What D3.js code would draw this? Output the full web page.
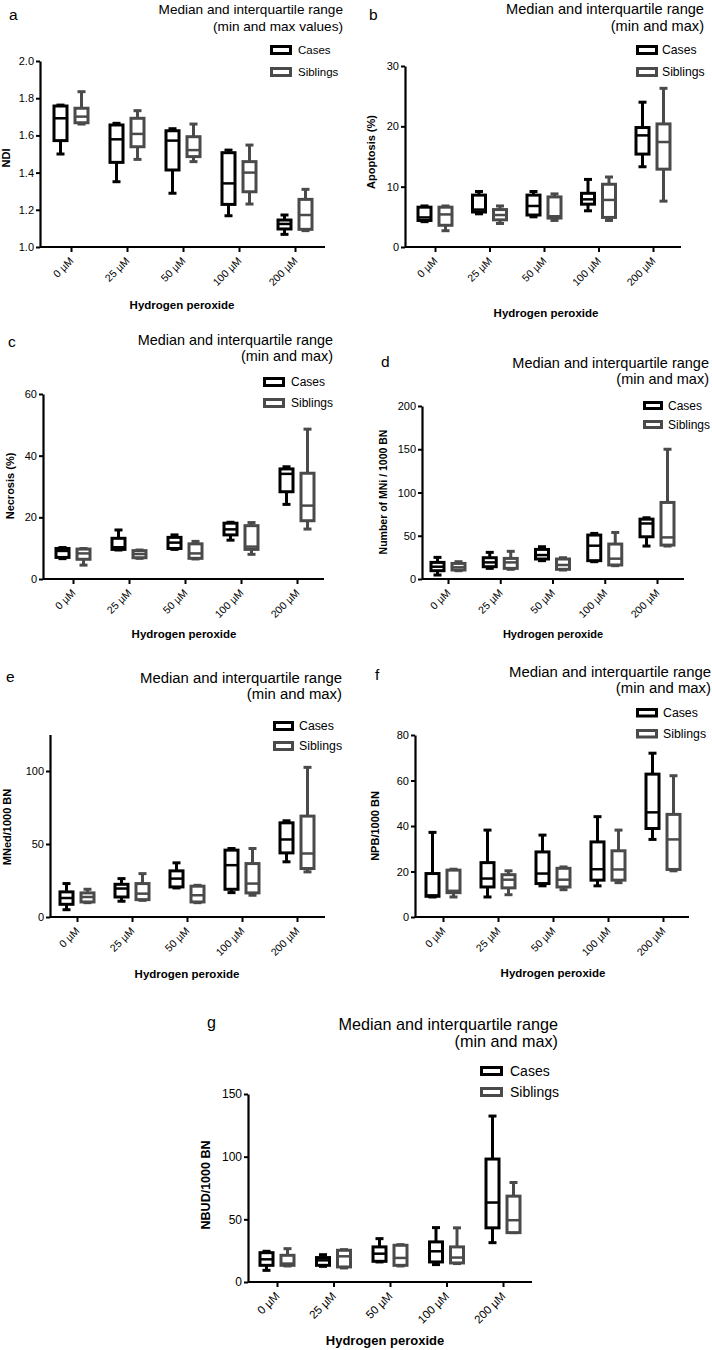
<!DOCTYPE html>
<html><head><meta charset="utf-8">
<script src="https://cdn.jsdelivr.net/npm/d3@7"></script>
<style>
body{margin:0;background:#fff}
svg{display:block}
text{font-family:"Liberation Sans",Arial,Helvetica,sans-serif;fill:#000}
</style>
</head><body>
<svg id="chart" width="712" height="1350"></svg>
<script>
// ---------------- DATA ----------------
const categories = ["0 µM", "25 µM", "50 µM", "100 µM", "200 µM"];
const groups = ["Cases", "Siblings"];
// each entry: [min, q1, median, q3, max]
const ndiCases     = [[1.500,1.572,1.692,1.758,1.763],[1.351,1.455,1.579,1.656,1.665],[1.289,1.414,1.572,1.625,1.636],[1.168,1.229,1.342,1.507,1.521],[1.068,1.097,1.124,1.145,1.172]];
const ndiSiblings  = [[1.661,1.668,1.701,1.746,1.835],[1.471,1.539,1.608,1.692,1.733],[1.459,1.486,1.521,1.593,1.661],[1.231,1.297,1.400,1.459,1.548],[1.088,1.095,1.172,1.256,1.310]];
const apoCases     = [[4.2,4.4,4.9,6.6,6.8],[5.5,5.8,6.2,8.6,9.2],[5.0,5.3,6.8,8.6,9.2],[6.0,7.1,7.9,8.9,11.2],[13.3,15.4,18.5,19.8,24.0]];
const apoSiblings  = [[2.7,3.6,5.4,6.6,6.8],[3.9,4.5,5.3,6.2,6.8],[4.4,4.8,5.1,8.3,8.8],[4.4,4.9,7.8,10.4,11.6],[7.6,12.9,17.4,20.4,26.3]];
const necCases     = [[6.6,7.0,9.1,9.9,10.2],[9.4,9.6,10.3,13.2,15.9],[9.6,9.9,11.8,13.5,14.3],[12.6,14.3,16.1,18.1,18.4],[24.2,28.3,34.1,35.7,36.4]];
const necSiblings  = [[4.5,6.4,8.3,9.7,9.9],[6.7,6.9,8.1,9.2,9.4],[6.5,6.7,8.3,11.4,12.2],[8.0,9.6,10.5,17.3,18.3],[16.2,18.9,23.8,34.3,48.6]];
const mniCases     = [[4.6,9.6,14.2,19.2,25.0],[12.3,14.2,19.2,24.6,30.8],[21.2,23.1,27.7,34.2,37.3],[20.0,21.2,38.5,50.8,52.7],[38.1,48.8,64.2,69.2,70.8]];
const mniSiblings  = [[9.6,10.4,13.5,18.0,20.0],[11.2,12.3,19.2,23.8,32.0],[10.4,11.2,16.2,23.1,24.6],[15.4,16.2,23.5,40.4,53.8],[38.1,39.2,48.1,88.5,150.0]];
const mnedCases    = [[5.0,8.7,13.0,17.2,22.9],[10.8,13.7,19.5,22.4,26.3],[19.9,20.6,26.3,31.6,37.1],[16.7,19.0,35.5,45.8,46.9],[37.8,43.9,53.1,64.5,65.9]];
const mnedSiblings = [[9.8,10.3,13.7,16.5,19.0],[11.4,11.9,16.0,22.9,29.7],[9.8,10.3,14.9,21.1,21.7],[14.9,16.5,22.9,36.6,46.9],[30.9,33.2,43.5,69.1,102.5]];
const npbCases     = [[8.8,9.1,9.5,19.1,37.2],[8.8,13.2,16.9,23.9,38.2],[13.7,14.7,19.1,28.6,36.0],[13.7,16.2,21.0,33.0,44.1],[34.1,38.9,46.0,62.8,72.0]];
const npbSiblings  = [[8.8,10.7,11.5,20.6,21.0],[9.8,12.8,16.4,18.6,20.3],[12.0,13.2,16.4,21.4,22.0],[15.1,16.2,20.9,29.1,38.2],[20.3,20.9,34.1,45.1,62.1]];
const nbudCases    = [[9.3,13.3,18.1,23.4,24.5],[12.5,13.3,17.3,19.5,21.8],[16.0,16.5,22.6,28.0,34.6],[13.9,16.0,24.5,32.0,43.4],[31.4,43.2,63.4,98.1,132.4]];
const nbudSiblings = [[12.8,13.3,14.7,21.3,26.6],[11.2,12.0,20.5,25.3,25.8],[12.8,13.3,19.2,29.3,29.8],[14.7,15.2,19.5,28.0,43.2],[39.4,39.4,49.3,68.5,79.4]];

const ndiTicks  = [1.0,1.2,1.4,1.6,1.8,2.0];
const apoTicks  = [0,10,20,30];
const necTicks  = [0,20,40,60];
const mniTicks  = [0,50,100,150,200];
const mnedTicks = [0,50,100];
const npbTicks  = [0,20,40,60,80];
const nbudTicks = [0,50,100,150];

const titleLine1 = "Median and interquartile range";
const xTitle = "Hydrogen peroxide";

// ---------------- LAYOUT ----------------
const panels = [
  {letter:"a", cases:ndiCases, sibs:ndiSiblings, ticks:ndiTicks, domain:[1,2], fmt:".1f", yLabel:"NDI", title2:"(min and max values)",
   L:{x0:40,x1:325,c0:71,c4:295,yb:247,yt:61, lx:[9,20,15.5], t:[343,13.7,30.5,13.6], lg:[270,45,67,22,10,298,11.5],
      yl:[6,158], xt:[182,309], fs:11, ts:11.5}},
  {letter:"b", cases:apoCases, sibs:apoSiblings, ticks:apoTicks, domain:[0,30], fmt:"d", yLabel:"Apoptosis (%)", title2:"(min and max)",
   L:{x0:405,x1:681,c0:435,c4:653,yb:247,yt:66, lx:[369,19.5,15.5], t:[704,14.3,30.5,14.6], lg:[636,45,67,22,10,662,12.2],
      yl:[371,152], xt:[546,317], fs:11, ts:11.5}},
  {letter:"c", cases:necCases, sibs:necSiblings, ticks:necTicks, domain:[0,60], fmt:"d", yLabel:"Necrosis (%)", title2:"(min and max)",
   L:{x0:43,x1:324,c0:73,c4:297,yb:579,yt:394, lx:[8,346.5,15.5], t:[333,345.3,361.3,14.4], lg:[263,377,398,22,10,291,12],
      yl:[10,486], xt:[184,638], fs:11, ts:11.5}},
  {letter:"d", cases:mniCases, sibs:mniSiblings, ticks:mniTicks, domain:[0,200], fmt:"d", yLabel:"Number of MNi / 1000 BN", title2:"(min and max)",
   L:{x0:422,x1:684,c0:448,c4:657,yb:579,yt:406, lx:[381,366.5,15.5], t:[709,367.7,383.7,14.5], lg:[643,401,420,20,9,668,12],
      yl:[383,492], xt:[553,638], fs:11, ts:11}},
  {letter:"e", cases:mnedCases, sibs:mnedSiblings, ticks:mnedTicks, domain:[0,125], fmt:"d", yLabel:"MNed/1000 BN", title2:"(min and max)",
   L:{x0:50,x1:325,c0:77,c4:297,yb:917,yt:734.5, lx:[6,681.5,15.5], t:[342,683.3,698.5,14.9], lg:[273,721,741,21,10,299,12.3],
      yl:[7,827], xt:[187,978], fs:11, ts:11.5}},
  {letter:"f", cases:npbCases, sibs:npbSiblings, ticks:npbTicks, domain:[0,80], fmt:"d", yLabel:"NPB/1000 BN", title2:"(min and max)",
   L:{x0:415,x1:689,c0:443,c4:663,yb:917,yt:735, lx:[375,680,15.5], t:[711,677.3,692.9,14.9], lg:[636,708,729,22,9.5,663,12.3],
      yl:[375,826], xt:[553,977], fs:11, ts:11.5}},
  {letter:"g", cases:nbudCases, sibs:nbudSiblings, ticks:nbudTicks, domain:[0,150], fmt:"d", yLabel:"NBUD/1000 BN", title2:"(min and max)",
   L:{x0:248,x1:532,c0:277,c4:503,yb:1282,yt:1094, lx:[207,1028,16], t:[558,1030,1046.6,16.2], lg:[480,1066,1087,23,10,510,14],
      yl:[206,1185], xt:[385,1345], fs:12, ts:13}}
];

const colors = {Cases:"#000000", Siblings:"#4a4a4a"};
const svg = d3.select("#chart");

function drawPanel(p) {
  const L = p.L;
  const g = svg.append("g");
  const step = (L.c4 - L.c0) / 4;
  const span = L.x1 - L.x0;
  const pad = (span / step - 4) / 2;
  const align = (L.c0 - L.x0) / (span - 4 * step);
  const x = d3.scalePoint().domain(categories).range([L.x0, L.x1]).padding(pad).align(align);
  const y = d3.scaleLinear().domain(p.domain).range([L.yb, L.yt]);

  g.append("text").attr("x", L.lx[0]).attr("y", L.lx[1]).attr("font-size", L.lx[2]).text(p.letter);
  g.append("text").attr("x", L.t[0]).attr("y", L.t[1]).attr("font-size", L.t[3]).attr("text-anchor","end").text(titleLine1);
  g.append("text").attr("x", L.t[0]).attr("y", L.t[2]).attr("font-size", L.t[3]).attr("text-anchor","end").text(p.title2);

  groups.forEach((name, i) => {
    const top = i === 0 ? L.lg[1] : L.lg[2];
    const w = L.lg[3], h = L.lg[4];
    g.append("rect").attr("x", L.lg[0] + 1.5).attr("y", top + 1.5).attr("width", w - 3).attr("height", h - 3)
      .attr("fill", "#fff").attr("stroke", colors[name]).attr("stroke-width", 3);
    g.append("text").attr("x", L.lg[5]).attr("y", top + h / 2 + L.lg[6] * 0.36).attr("font-size", L.lg[6]).text(name);
  });

  const yAxis = g.append("g").attr("transform", `translate(${L.x0},0)`)
    .call(d3.axisLeft(y).tickValues(p.ticks).tickFormat(d3.format(p.fmt)).tickSize(4).tickSizeOuter(0).tickPadding(2));
  yAxis.select(".domain").attr("stroke-width", 2.2).attr("stroke", "#000");
  yAxis.selectAll(".tick line").attr("stroke-width", 2).attr("stroke", "#000");
  yAxis.selectAll(".tick text").attr("font-size", L.fs).attr("font-family", null).attr("fill", "#000");

  const xAxis = g.append("g").attr("transform", `translate(0,${L.yb})`)
    .call(d3.axisBottom(x).tickSize(5).tickSizeOuter(0));
  xAxis.select(".domain").attr("stroke-width", 2.2).attr("stroke", "#000").attr("d", `M${L.x0},0H${L.x1}`);
  xAxis.selectAll(".tick line").attr("stroke-width", 2).attr("stroke", "#000");
  xAxis.selectAll(".tick text").attr("font-size", L.fs - 0.5).attr("font-family", null).attr("fill", "#000")
    .attr("x", 0).attr("y", 0).attr("dy", "0.35em").attr("text-anchor", "end")
    .attr("transform", "translate(0,12) rotate(-45)");

  g.append("text").attr("transform", `translate(${L.yl[0]},${L.yl[1]}) rotate(-90)`)
    .attr("text-anchor", "middle").attr("dy", "0.35em").attr("font-size", L.ts - 0.5).attr("font-weight", "bold").text(p.yLabel);
  g.append("text").attr("x", L.xt[0]).attr("y", L.xt[1]).attr("text-anchor", "middle")
    .attr("font-size", L.ts).attr("font-weight", "bold").text(xTitle);

  const half = 6.5, cap = 4;
  [[p.cases, "Cases", -10.5], [p.sibs, "Siblings", 10.5]].forEach(([data, name, off]) => {
    const col = colors[name];
    const bg = g.append("g").attr("stroke", col).attr("stroke-width", 3).attr("fill", "none");
    data.forEach((d, i) => {
      const cx = x(categories[i]) + off;
      const [mn, q1, md, q3, mx] = d;
      bg.append("line").attr("x1", cx).attr("x2", cx).attr("y1", y(mx)).attr("y2", y(q3));
      bg.append("line").attr("x1", cx).attr("x2", cx).attr("y1", y(q1)).attr("y2", y(mn));
      bg.append("line").attr("x1", cx - cap).attr("x2", cx + cap).attr("y1", y(mx)).attr("y2", y(mx));
      bg.append("line").attr("x1", cx - cap).attr("x2", cx + cap).attr("y1", y(mn)).attr("y2", y(mn));
      bg.append("rect").attr("x", cx - half).attr("width", half * 2)
        .attr("y", y(q3)).attr("height", Math.max(0.5, y(q1) - y(q3))).attr("fill", "#fff");
      bg.append("line").attr("x1", cx - half).attr("x2", cx + half).attr("y1", y(md)).attr("y2", y(md))
        .attr("stroke-width", 2.5);
    });
  });
}

panels.forEach(drawPanel);
</script>
</body></html>
